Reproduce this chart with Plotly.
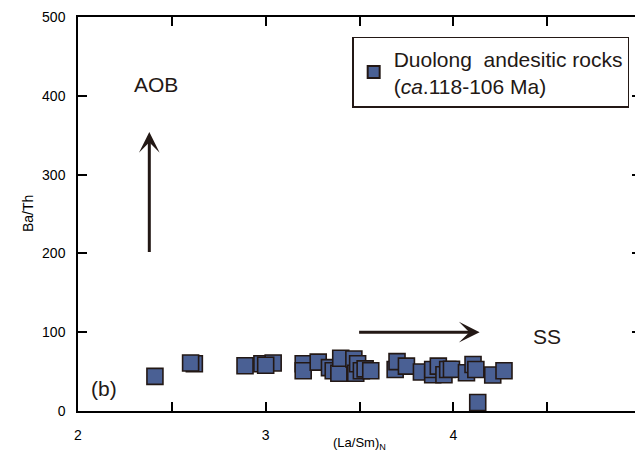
import plotly.graph_objects as go

# (La/Sm)N and Ba/Th of Duolong andesitic rocks
la_sm = [2.41, 2.62, 2.60, 2.89, 2.98, 3.04, 3.00, 3.20, 3.20, 3.28, 3.34, 3.36,
         3.39, 3.40, 3.47, 3.48, 3.49, 3.51, 3.53, 3.56, 3.69, 3.70, 3.75, 3.83,
         3.89, 3.89, 3.92, 3.95, 3.97, 3.99, 4.07, 4.105, 4.12, 4.21, 4.27, 4.13]
ba_th = [44, 60, 61, 57.5, 60, 61, 58, 60, 51, 62, 55, 51,
         48, 67, 66, 48, 60, 51, 53.5, 51, 52.6, 62.6, 57, 49.5,
         46, 52.7, 57, 46, 52.7, 53, 48.5, 59, 52.7, 45.7, 51, 10.8]

series_name = "Duolong\u00a0\u00a0andesitic rocks<br>(<i>ca</i>.118-106 Ma)"

x_tickvals = [2, 3, 4, 5]
y_tickvals = [0, 100, 200, 300, 400, 500]

# arrows: (tail, tip) in data units
aob_arrow = ((2.38, 200), (2.38, 354))
ss_arrow = ((3.49, 100), (4.14, 100))

FONT = "Arial, Liberation Sans, Helvetica, sans-serif"
INK = "#231815"

fig = go.Figure()
fig.add_trace(go.Scatter(
    x=la_sm, y=ba_th, mode="markers", name=series_name,
    marker=dict(symbol="square", size=16, color="#4a6094",
                line=dict(color=INK, width=1.6)),
    showlegend=True,
))

for (tail, tip) in (aob_arrow, ss_arrow):
    fig.add_annotation(x=tip[0], y=tip[1], ax=tail[0], ay=tail[1],
                       xref="x", yref="y", axref="x", ayref="y",
                       showarrow=True, arrowhead=3, arrowwidth=3,
                       arrowsize=1.15, arrowcolor=INK, text="")

labels = [("AOB", 2.415, 414), ("SS", 4.50, 94), ("(b)", 2.14, 29)]
for t, lx, ly in labels:
    fig.add_annotation(x=lx, y=ly, xref="x", yref="y", text=t, showarrow=False,
                       font=dict(family=FONT, size=21, color=INK))

fig.add_annotation(x=0.5, y=0, xref="paper", yref="paper", yshift=-32,
                   text="(La/Sm)<sub>N</sub>", showarrow=False, yanchor="middle",
                   font=dict(family=FONT, size=13, color="black"))
fig.add_annotation(x=0, y=0.5, xref="paper", yref="paper", xshift=-60,
                   text="Ba/Th", showarrow=False, textangle=-90,
                   font=dict(family=FONT, size=14, color="black"))

# the page body adds an 8 px margin, so the figure is sized to fit the window
fig.update_layout(
    width=635, height=443,
    margin=dict(l=70, r=2, t=9, b=40, autoexpand=False),
    paper_bgcolor="white", plot_bgcolor="white",
    font=dict(family=FONT, color="black"),
    showlegend=True,
    legend=dict(x=0.487, y=0.95, xanchor="left", yanchor="top",
                bordercolor=INK, borderwidth=1.5, bgcolor="white",
                font=dict(family=FONT, size=21, color=INK),
                valign="middle", itemsizing="constant"),
    xaxis=dict(range=[2, 5], tickvals=x_tickvals,
               ticks="inside", ticklen=9, tickwidth=1.5, tickcolor="black",
               minor=dict(dtick=0.5, tick0=2, ticks="inside", ticklen=9,
                          tickwidth=1.5, tickcolor="black", showgrid=False),
               showline=True, linecolor="black", linewidth=1.5, mirror="ticks",
               showgrid=False, zeroline=False, ticklabelstandoff=10,
               ticklabeloverflow="allow",
               automargin=False,
               tickfont=dict(size=14, color="black")),
    yaxis=dict(range=[0, 500], tickvals=y_tickvals,
               ticks="inside", ticklen=9, tickwidth=1.5, tickcolor="black",
               showline=True, linecolor="black", linewidth=1.5, mirror="ticks",
               showgrid=False, zeroline=False, ticklabelstandoff=8,
               automargin=False,
               tickfont=dict(size=14, color="black")),
)

fig.write_html("out.html")
